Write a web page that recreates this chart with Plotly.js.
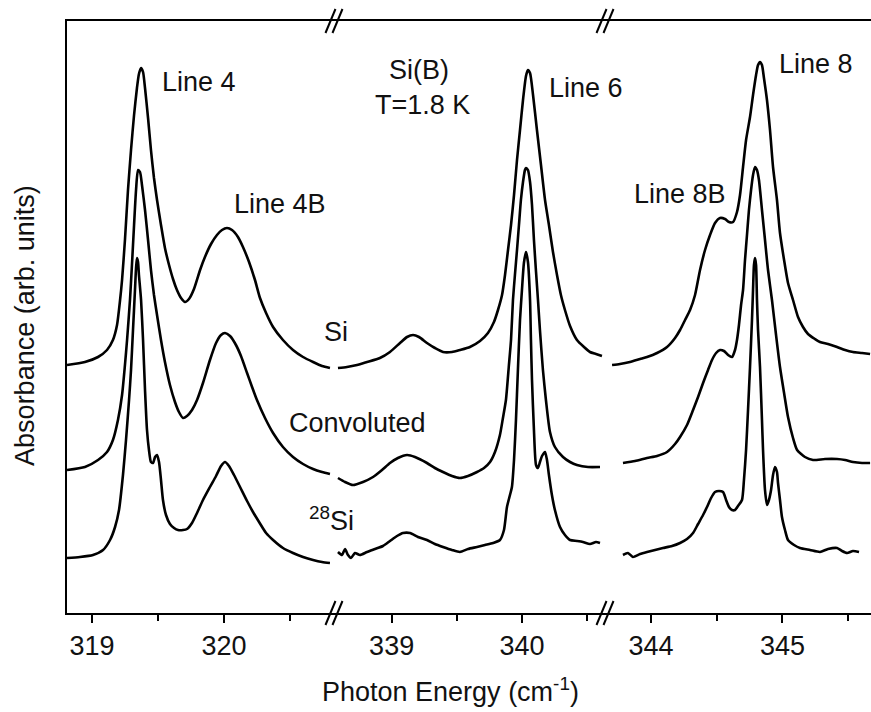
<!DOCTYPE html>
<html>
<head>
<meta charset="utf-8">
<script src="https://cdn.plot.ly/plotly-3.0.1.min.js"></script>
<style>html,body{margin:0;padding:0;background:#fff;}#chart{width:871px;height:712px;}</style>
</head>
<body>
<div id="chart"></div>
<script>
// ---- Segment 1 (Line 4 / 4B region) ----
var siX1 = [318.810,318.946,319.045,319.113,319.158,319.189,319.212,319.227,319.249,319.272,319.295,319.318,319.340,319.355,319.371,319.386,319.401,319.424,319.446,319.469,319.492,319.522,319.552,319.583,319.613,319.643,319.674,319.704,319.734,319.772,319.818,319.855,319.901,319.946,319.984,320.022,320.060,320.105,320.143,320.189,320.234,320.272,320.318,320.371,320.446,320.522,320.598,320.674,320.742,320.802];
var siY1 = [2.48,2.51,2.56,2.63,2.73,2.88,3.13,3.33,3.73,4.23,4.63,4.98,5.25,5.39,5.45,5.41,5.25,4.95,4.63,4.35,4.13,3.88,3.65,3.48,3.34,3.23,3.15,3.11,3.14,3.24,3.43,3.56,3.69,3.78,3.83,3.85,3.83,3.76,3.66,3.51,3.33,3.15,3.00,2.86,2.73,2.63,2.56,2.51,2.47,2.45];
var convX1 = [318.810,318.946,319.045,319.113,319.158,319.196,319.227,319.249,319.265,319.287,319.302,319.318,319.333,319.348,319.363,319.378,319.401,319.424,319.446,319.469,319.492,319.522,319.552,319.590,319.628,319.658,319.689,319.719,319.757,319.795,319.840,319.893,319.939,319.977,320.007,320.045,320.090,320.128,320.174,320.212,320.249,320.310,320.371,320.446,320.522,320.598,320.674,320.742,320.802];
var convY1 = [1.43,1.46,1.53,1.61,1.73,1.93,2.18,2.48,2.73,3.13,3.48,3.88,4.23,4.43,4.41,4.28,4.03,3.73,3.43,3.18,2.98,2.73,2.51,2.28,2.11,2.01,1.95,1.97,2.03,2.13,2.30,2.53,2.70,2.78,2.80,2.77,2.68,2.57,2.40,2.26,2.13,1.95,1.80,1.66,1.56,1.49,1.44,1.41,1.39];
var si28X1 = [318.810,318.908,319.007,319.083,319.136,319.174,319.204,319.234,319.257,319.280,319.295,319.310,319.325,319.333,319.340,319.348,319.355,319.371,319.386,319.401,319.416,319.431,319.446,319.462,319.477,319.492,319.507,319.522,319.537,319.560,319.590,319.621,319.651,319.689,319.719,319.757,319.795,319.840,319.893,319.939,319.977,320.007,320.037,320.075,320.121,320.174,320.219,320.265,320.318,320.371,320.446,320.522,320.598,320.674,320.742,320.802];
var si28Y1 = [0.55,0.56,0.58,0.63,0.73,0.86,1.03,1.38,1.73,2.13,2.43,2.83,3.23,3.45,3.55,3.51,3.38,3.13,2.73,2.23,1.83,1.63,1.51,1.50,1.56,1.58,1.51,1.33,1.13,0.98,0.89,0.85,0.83,0.83,0.84,0.90,1.00,1.13,1.26,1.37,1.47,1.51,1.47,1.38,1.26,1.12,1.01,0.91,0.80,0.73,0.65,0.60,0.56,0.53,0.51,0.50];

// ---- Segment 2 (Line 6 region) ----
var siX2 = [338.588,338.657,338.734,338.811,338.910,338.987,339.064,339.118,339.164,339.210,339.271,339.332,339.394,339.463,339.524,339.601,339.678,339.739,339.785,339.816,339.847,339.870,339.893,339.916,339.939,339.962,339.985,340.008,340.031,340.046,340.062,340.085,340.115,340.146,340.177,340.207,340.238,340.269,340.299,340.330,340.369,340.422,340.476,340.522,340.568,340.614];
var siY2 = [2.45,2.46,2.48,2.51,2.55,2.61,2.70,2.76,2.78,2.76,2.70,2.65,2.61,2.61,2.63,2.66,2.72,2.80,2.91,3.03,3.18,3.38,3.63,3.88,4.18,4.53,4.83,5.13,5.37,5.43,5.40,5.18,4.83,4.48,4.13,3.88,3.61,3.38,3.18,3.03,2.87,2.73,2.66,2.61,2.59,2.57];
var convX2 = [338.588,338.642,338.703,338.780,338.857,338.926,338.987,339.048,339.118,339.179,339.271,339.332,339.394,339.463,339.524,339.586,339.655,339.709,339.755,339.793,339.831,339.854,339.877,339.900,339.916,339.931,339.946,339.962,339.977,339.992,340.008,340.023,340.031,340.046,340.062,340.077,340.092,340.108,340.123,340.138,340.161,340.184,340.215,340.253,340.315,340.369,340.422,340.507,340.599];
var convY2 = [1.35,1.31,1.28,1.31,1.36,1.43,1.50,1.55,1.58,1.56,1.50,1.45,1.41,1.37,1.35,1.37,1.41,1.45,1.51,1.61,1.78,1.95,2.13,2.48,2.73,3.13,3.38,3.63,3.88,4.13,4.31,4.43,4.45,4.43,4.31,4.08,3.73,3.41,3.13,2.83,2.43,2.13,1.81,1.66,1.56,1.51,1.48,1.46,1.46];
var si28X2 = [338.588,338.619,338.642,338.665,338.688,338.718,338.757,338.811,338.872,338.933,338.987,339.041,339.087,339.141,339.202,339.271,339.332,339.394,339.463,339.524,339.586,339.655,339.716,339.778,339.831,339.862,339.885,339.908,339.923,339.939,339.954,339.969,339.985,340.000,340.015,340.031,340.046,340.062,340.069,340.077,340.092,340.108,340.123,340.138,340.154,340.177,340.192,340.207,340.230,340.253,340.292,340.330,340.369,340.422,340.468,340.522,340.568,340.599];
var si28Y2 = [0.61,0.58,0.64,0.58,0.55,0.60,0.58,0.61,0.64,0.67,0.72,0.77,0.80,0.80,0.76,0.73,0.69,0.66,0.63,0.61,0.64,0.66,0.68,0.70,0.73,0.83,1.06,1.18,1.26,1.53,1.93,2.43,2.93,3.23,3.50,3.61,3.51,3.13,2.73,2.33,1.83,1.48,1.45,1.51,1.57,1.61,1.53,1.38,1.18,1.03,0.86,0.78,0.73,0.72,0.71,0.69,0.71,0.70];

// ---- Segment 3 (Line 8 / 8B region) ----
var siX3 = [343.704,343.764,343.840,343.917,343.970,344.046,344.122,344.183,344.221,344.259,344.297,344.335,344.373,344.411,344.449,344.487,344.525,344.563,344.593,344.624,344.654,344.677,344.700,344.723,344.753,344.776,344.799,344.814,344.829,344.844,344.859,344.882,344.905,344.928,344.958,344.981,345.012,345.042,345.080,345.118,345.156,345.194,345.247,345.285,345.346,345.415,345.476,345.536,345.605,345.666];
var siY3 = [2.48,2.49,2.51,2.54,2.56,2.60,2.66,2.75,2.83,2.93,3.03,3.18,3.43,3.63,3.78,3.90,3.95,3.94,3.91,3.91,4.01,4.18,4.46,4.73,4.96,5.18,5.38,5.48,5.51,5.48,5.35,5.13,4.83,4.46,4.13,3.80,3.53,3.30,3.13,2.96,2.86,2.79,2.74,2.71,2.69,2.66,2.63,2.61,2.60,2.59];
var convX3 = [343.787,343.879,343.970,344.046,344.122,344.183,344.221,344.274,344.320,344.358,344.396,344.434,344.464,344.495,344.525,344.555,344.586,344.616,344.639,344.654,344.669,344.685,344.700,344.715,344.730,344.745,344.761,344.776,344.791,344.806,344.821,344.844,344.867,344.890,344.920,344.951,344.981,345.012,345.042,345.080,345.111,345.171,345.232,345.323,345.415,345.476,345.536,345.605,345.666];
var convY3 = [1.50,1.52,1.55,1.57,1.61,1.69,1.76,1.88,2.03,2.16,2.30,2.43,2.53,2.60,2.63,2.62,2.58,2.56,2.63,2.73,2.88,3.08,3.23,3.53,3.78,4.03,4.23,4.38,4.46,4.43,4.33,4.03,3.73,3.43,3.13,2.78,2.46,2.20,1.96,1.75,1.63,1.56,1.53,1.54,1.54,1.53,1.51,1.50,1.50];
var si28X3 = [343.787,343.825,343.863,343.917,343.970,344.031,344.091,344.160,344.221,344.274,344.320,344.358,344.396,344.426,344.457,344.487,344.517,344.548,344.571,344.593,344.616,344.639,344.662,344.692,344.707,344.723,344.738,344.753,344.768,344.776,344.783,344.791,344.799,344.806,344.814,344.829,344.844,344.852,344.867,344.882,344.897,344.913,344.928,344.943,344.958,344.966,344.981,344.996,345.019,345.042,345.088,345.133,345.209,345.285,345.346,345.415,345.453,345.491,345.536,345.582];
var si28Y3 = [0.58,0.60,0.56,0.59,0.61,0.63,0.65,0.67,0.70,0.74,0.80,0.89,0.98,1.06,1.15,1.21,1.22,1.21,1.13,1.06,1.03,1.03,1.07,1.13,1.33,1.63,2.03,2.46,2.93,3.23,3.48,3.55,3.48,3.13,2.83,2.46,1.93,1.63,1.23,1.08,1.13,1.23,1.38,1.46,1.41,1.30,1.13,0.96,0.83,0.73,0.68,0.65,0.63,0.61,0.64,0.65,0.62,0.60,0.62,0.61];

// ---- Axis ticks ----
var tickVals1 = [319, 320], minorVals1 = [319.5, 320.5];
var tickVals2 = [339, 340], minorVals2 = [339.5, 340.5];
var tickVals3 = [344, 345], minorVals3 = [344.5, 345.5];
var tickText1 = ['319', '320'], tickText2 = ['339', '340'], tickText3 = ['344', '345'];

var FONT = 'Liberation Sans, Arial, Helvetica, sans-serif';
var segs = [
  {ax: 'x',  sets: [[siX1, siY1], [convX1, convY1], [si28X1, si28Y1]]},
  {ax: 'x2', sets: [[siX2, siY2], [convX2, convY2], [si28X2, si28Y2]]},
  {ax: 'x3', sets: [[siX3, siY3], [convX3, convY3], [si28X3, si28Y3]]}
];
var traces = [];
segs.forEach(function (s) {
  s.sets.forEach(function (d) {
    traces.push({x: d[0], y: d[1], xaxis: s.ax, yaxis: 'y', type: 'scatter', mode: 'lines',
      line: {color: '#000', width: 2.6, shape: 'spline', smoothing: 0.6}, hoverinfo: 'skip', showlegend: false});
  });
});

function xax(domain, range, tv, tt, mv) {
  return {domain: domain, range: range, anchor: 'y', tickmode: 'array', tickvals: tv, ticktext: tt,
    ticks: 'outside', ticklen: 8, tickwidth: 2, tickcolor: '#000',
    minor: {tickmode: 'array', tickvals: mv, ticks: 'outside', ticklen: 6, tickwidth: 2, tickcolor: '#000', showgrid: false},
    showline: true, linewidth: 2, linecolor: '#000', mirror: true, showgrid: false, zeroline: false,
    tickfont: {family: FONT, size: 27, color: '#111'}, fixedrange: true};
}
var b1 = 0.3333, b2 = 0.6704;
var shapes = [];
[b1, b2].forEach(function (b) {
  [0, 1].forEach(function (ya) {
    [[-9.5, 0.5], [-2.5, 7.5]].forEach(function (p) {
      shapes.push({type: 'line', xref: 'paper', yref: 'paper', xsizemode: 'pixel', ysizemode: 'pixel',
        xanchor: b, yanchor: ya, x0: p[0], x1: p[1], y0: -12, y1: 12, line: {color: '#000', width: 2}});
    });
  });
});

var tf = {family: FONT, size: 27, color: '#111'};
var annotations = [
  {xref: 'x', yref: 'y', x: 319.515, y: 5.31, text: 'Line 4', xanchor: 'left', yanchor: 'middle'},
  {xref: 'x', yref: 'y', x: 320.06, y: 4.09, text: 'Line 4B', xanchor: 'left', yanchor: 'middle'},
  {xref: 'x2', yref: 'y', x: 339.21, y: 5.43, text: 'Si(B)', xanchor: 'center', yanchor: 'middle'},
  {xref: 'x2', yref: 'y', x: 339.24, y: 5.08, text: 'T=1.8 K', xanchor: 'center', yanchor: 'middle'},
  {xref: 'x2', yref: 'y', x: 340.192, y: 5.25, text: 'Line 6', xanchor: 'left', yanchor: 'middle'},
  {xref: 'x3', yref: 'y', x: 344.958, y: 5.49, text: 'Line 8', xanchor: 'left', yanchor: 'middle'},
  {xref: 'x3', yref: 'y', x: 343.856, y: 4.19, text: 'Line 8B', xanchor: 'left', yanchor: 'middle'},
  {xref: 'x', yref: 'y', x: 320.742, y: 2.81, text: 'Si', xanchor: 'left', yanchor: 'middle'},
  {xref: 'x', yref: 'y', x: 320.477, y: 1.90, text: 'Convoluted', xanchor: 'left', yanchor: 'middle'},
  {xref: 'x', yref: 'y', x: 320.628, y: 0.94, text: '<sup>28</sup>Si', xanchor: 'left', yanchor: 'middle'},
  {xref: 'paper', yref: 'paper', x: 0.4776, y: -0.130, text: 'Photon Energy (cm<sup>-1</sup>)', xanchor: 'center', yanchor: 'middle'},
  {xref: 'paper', yref: 'paper', x: -0.0522, y: 0.485, text: 'Absorbance (arb. units)', textangle: -90, xanchor: 'center', yanchor: 'middle'}
];
annotations.forEach(function (a) { a.showarrow = false; a.font = tf; });

var layout = {
  width: 871, height: 712,
  margin: {l: 67, r: 0, t: 21, b: 99, pad: 0},
  paper_bgcolor: '#fff', plot_bgcolor: '#fff',
  showlegend: false,
  xaxis: xax([0, b1], [318.81, 320.84], tickVals1, tickText1, minorVals1),
  xaxis2: xax([b1, b2], [338.565, 340.645], tickVals2, tickText2, minorVals2),
  xaxis3: xax([b2, 1], [343.658, 345.673], tickVals3, tickText3, minorVals3),
  yaxis: {range: [0, 5.92], showticklabels: false, ticks: '', showline: true, linewidth: 2, linecolor: '#000',
    mirror: false, showgrid: false, zeroline: false, fixedrange: true},
  shapes: shapes,
  annotations: annotations
};
Plotly.newPlot('chart', traces, layout, {displayModeBar: false, staticPlot: true});
</script>
</body>
</html>
